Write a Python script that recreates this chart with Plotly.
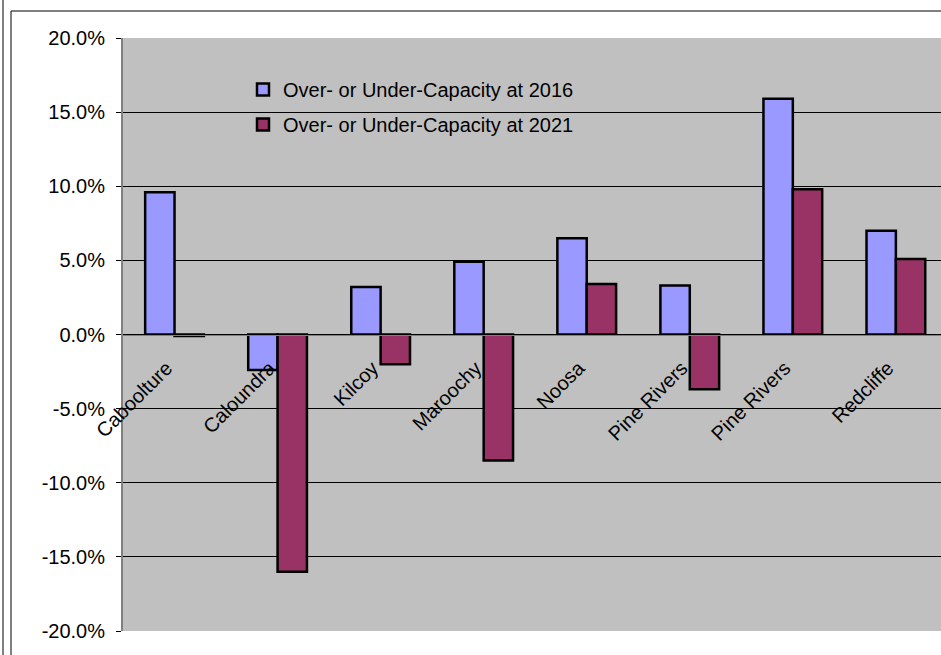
import plotly.graph_objects as go

# ---- data ----
categories = ["Caboolture", "Caloundra", "Kilcoy", "Maroochy", "Noosa",
              "Pine Rivers", "Pine Rivers", "Redcliffe"]
cap_2016 = [0.096, -0.024, 0.032, 0.049, 0.065, 0.033, 0.159, 0.070]
cap_2021 = [-0.001, -0.160, -0.020, -0.085, 0.034, -0.037, 0.098, 0.051]
series_names = ["Over- or Under-Capacity at 2016", "Over- or Under-Capacity at 2021"]
y_ticks = [-0.20, -0.15, -0.10, -0.05, 0.0, 0.05, 0.10, 0.15, 0.20]
y_tick_labels = [f"{v * 100:.1f}%" for v in y_ticks]

# ---- layout constants ----
W, H = 941, 655
ML, MR, MT, MB = 123, 0, 38, 24
PW, PH = W - ML - MR, H - MT - MB
CAT_W = 103.05  # pixel width of one category in the reference
LABEL_SHIFT = 8 / CAT_W  # category labels sit slightly left of centre
FONT = "Liberation Sans, Arial, sans-serif"
GRID = "#000000"
AX = "#808080"

idx = list(range(len(categories)))
x_range = [-0.5, -0.5 + PW / CAT_W]
y_range = [y_ticks[0], y_ticks[-1]]
zero_pos = (0 - y_range[0]) / (y_range[1] - y_range[0])


def px_x(p):
    return (p - ML) / PW


def px_y(q):
    return 1 - (q - MT) / PH


fig = go.Figure()
fig.add_trace(go.Bar(x=idx, y=cap_2016, name=series_names[0], legendgroup="a",
                     marker=dict(color="#9999FF", line=dict(color="black", width=2.5))))
fig.add_trace(go.Bar(x=idx, y=cap_2021, name=series_names[1], legendgroup="b",
                     marker=dict(color="#993366", line=dict(color="black", width=2.5))))

fig.update_layout(
    width=W, height=H,
    margin=dict(l=ML, r=MR, t=MT, b=MB, pad=0),
    paper_bgcolor="white",
    plot_bgcolor="#C0C0C0",
    font=dict(family=FONT, size=20, color="black"),
    barmode="group", bargap=0.43, bargroupgap=0,
    showlegend=True,
    legend=dict(x=px_x(243), y=px_y(70), xanchor="left", yanchor="top",
                bgcolor="rgba(0,0,0,0)", borderwidth=0, tracegroupgap=6,
                font=dict(family=FONT, size=20, color="black")),
    xaxis=dict(range=x_range, tickmode="array",
               tickvals=[i - LABEL_SHIFT for i in idx], ticktext=categories,
               tickangle=-45, ticks="", showgrid=False, zeroline=False,
               showline=True, linecolor=AX, linewidth=1,
               anchor="free", position=zero_pos, ticklabelstandoff=13,
               tickfont=dict(family=FONT, size=20, color="black")),
    xaxis2=dict(range=x_range, overlaying="x", tickmode="array",
                tickvals=[i + 0.5 for i in idx[:-1]], ticks="outside", ticklen=5,
                tickcolor="#404040", showticklabels=False, showgrid=False,
                zeroline=False, showline=False, anchor="free", position=zero_pos),
    xaxis3=dict(range=x_range, overlaying="x", showticklabels=False, ticks="",
                showgrid=False, zeroline=False, showline=True, mirror=True,
                linecolor=AX, linewidth=2, anchor="y"),
    yaxis=dict(range=y_range, tickmode="array", tickvals=y_ticks,
               ticktext=y_tick_labels,
               ticks="outside", ticklen=5, tickcolor="black", ticklabelstandoff=7,
               showgrid=True, gridcolor=GRID, gridwidth=1,
               zeroline=False, showline=True, linecolor=AX, linewidth=2,
               tickfont=dict(family=FONT, size=20, color="black")),
)

shapes = [
    # legend background occluding gridline
    dict(type="rect", xref="paper", yref="paper", x0=px_x(213), x1=px_x(600),
         y0=px_y(140), y1=px_y(68), fillcolor="#C0C0C0", line=dict(width=0),
         layer="between"),
    # outer chart frame
    dict(type="line", xref="paper", yref="paper", x0=px_x(3), x1=px_x(3),
         y0=px_y(0), y1=px_y(H), line=dict(color="black", width=1)),
    dict(type="line", xref="paper", yref="paper", x0=px_x(11), x1=px_x(11),
         y0=px_y(11), y1=px_y(H), line=dict(color="black", width=1)),
    dict(type="line", xref="paper", yref="paper", x0=px_x(11), x1=px_x(W),
         y0=px_y(11), y1=px_y(11), line=dict(color="black", width=1)),
]
fig.update_layout(shapes=shapes)

fig.write_html("out.html", config={"displayModeBar": False},
               post_script="document.body.style.margin='0';document.body.style.overflow='hidden';")
